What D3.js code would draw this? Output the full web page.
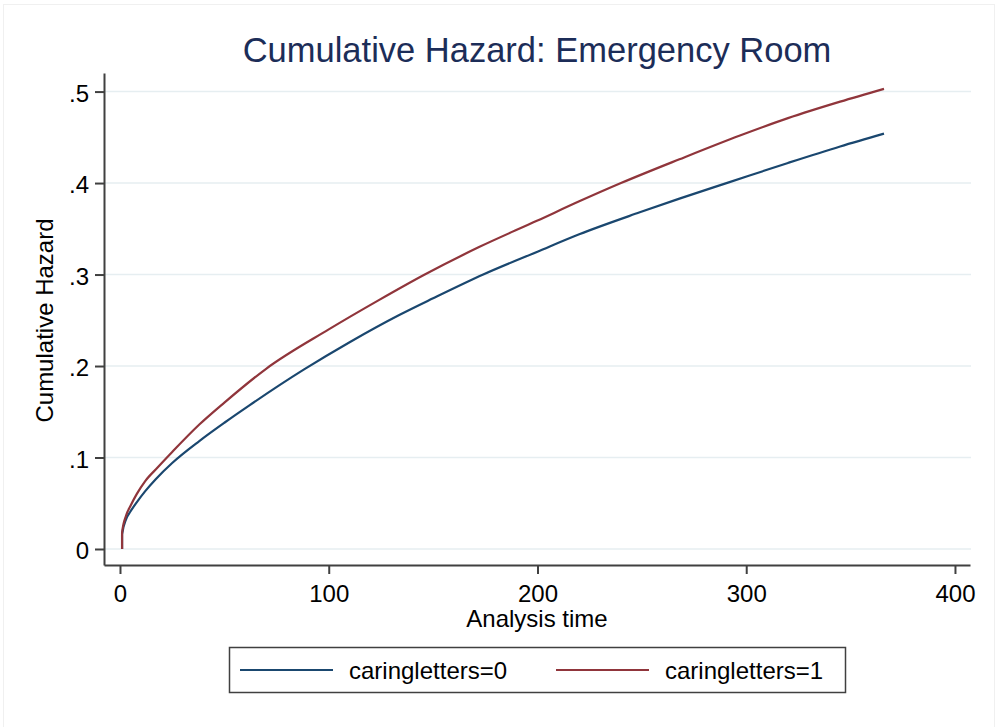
<!DOCTYPE html>
<html>
	<head>
		<meta charset="utf-8">
		<title>Cumulative Hazard</title>
		<style type="text/css">
			body {
			margin: 0;
			background: #ffffff;
			}
			
			text {
			font-family: "Liberation Sans", Arial, sans-serif;
			fill: #000000;
			}
			
			.title {
			font-size: 34.5px;
			fill: #1c2d58;
			}
			
			.axis text {
			font-size: 24px;
			}
			
			.axis path, .axis line {
			stroke: #404040;
			stroke-width: 2;
			}
			
			.grid line {
			stroke: #e6eef1;
			stroke-width: 1.5;
			}
			
			.hazard {
			fill: none;
			stroke-width: 2.2;
			stroke-linejoin: round;
			}
		</style>
		<script src="https://d3js.org/d3.v7.min.js"></script>
	</head>
	<body>
		<div id="chart"></div>
		
		<script>
			
			//data
			var groups = ["caringletters=0", "caringletters=1"];
			var colors = ["#1a476f", "#90353b"];
			
			var time0 = [1, 1, 3, 5, 8, 12, 17, 25, 38, 50, 62, 88, 110, 134, 150, 174, 200, 220, 249, 268, 292, 320, 345, 366];
			var hazard0 = [0, 0.016, 0.033, 0.041, 0.051, 0.063, 0.076, 0.094, 0.118, 0.138, 0.157, 0.196, 0.226, 0.256, 0.274, 0.300, 0.325, 0.344, 0.368, 0.383, 0.401, 0.422, 0.440, 0.454];
			
			var time1 = [1, 1, 3, 5, 8, 12, 18, 25, 38, 50, 70, 100, 124, 146, 172, 200, 220, 240, 268, 297, 320, 345, 366];
			var hazard1 = [0, 0.018, 0.037, 0.047, 0.060, 0.074, 0.089, 0.106, 0.136, 0.160, 0.197, 0.240, 0.272, 0.300, 0.330, 0.359, 0.380, 0.400, 0.426, 0.452, 0.471, 0.489, 0.503];
			
			var xTicks = [0, 100, 200, 300, 400];
			var yTicks = [0, 0.1, 0.2, 0.3, 0.4, 0.5];
			var yTickLabels = ["0", ".1", ".2", ".3", ".4", ".5"];
			
			// set the dimensions
			var fullWidth = 996, fullHeight = 727;
			var margin = {top: 73, left: 104},
			width = 866,
			height = 492;
			
			// set the ranges (axes run a little past the data range, like Stata)
			var x = d3.scaleLinear()
			.domain([-7.66, 407.2])
			.range([0, width]);
			
			var y = d3.scaleLinear()
			.domain([-0.0175, 0.5203])
			.range([height, 0]);
			
			var line = d3.line()
			.x(function(d) { return x(d.t); })
			.y(function(d) { return y(d.h); })
			.curve(d3.curveMonotoneX);
			
			var series = [
			time0.map(function(t, i) { return {t: t, h: hazard0[i]}; }),
			time1.map(function(t, i) { return {t: t, h: hazard1[i]}; })
			];
			
			var svg = d3.select("#chart").append("svg")
			.attr("width", fullWidth)
			.attr("height", fullHeight);
			
			// faint outer frame
			svg.append("rect")
			.attr("x", 3.5)
			.attr("y", 4.5)
			.attr("width", fullWidth - 5)
			.attr("height", fullHeight - 4)
			.attr("fill", "none")
			.attr("stroke", "#f0f0f0");
			
			svg.append("text")
			.attr("class", "title")
			.attr("x", margin.left + width / 2)
			.attr("y", 62)
			.attr("text-anchor", "middle")
			.text("Cumulative Hazard: Emergency Room");
			
			var g = svg.append("g")
			.attr("transform", "translate(" + margin.left + "," + margin.top + ")");
			
			// gridlines
			g.append("g")
			.attr("class", "grid")
			.selectAll("line")
			.data(yTicks)
			.enter().append("line")
			.attr("x1", 1)
			.attr("x2", width + 1)
			.attr("y1", function(d) { return y(d); })
			.attr("y2", function(d) { return y(d); });
			
			// add axis
			g.append("g")
			.attr("class", "x axis")
			.attr("transform", "translate(0," + height + ")")
			.call(d3.axisBottom(x).tickValues(xTicks).tickSize(9).tickSizeOuter(0).tickPadding(11));
			
			g.append("g")
			.attr("class", "y axis")
			.call(d3.axisLeft(y).tickValues(yTicks).tickSize(9).tickSizeOuter(0).tickPadding(6)
			.tickFormat(function(d, i) { return yTickLabels[i]; }))
			.selectAll("text")
			.attr("dy", "0.4em");
			
			// axis titles
			svg.append("text")
			.attr("x", margin.left + width / 2)
			.attr("y", 627)
			.attr("text-anchor", "middle")
			.style("font-size", "24px")
			.text("Analysis time");
			
			svg.append("text")
			.attr("transform", "translate(53," + 320.5 + ") rotate(-90)")
			.attr("text-anchor", "middle")
			.style("font-size", "24px")
			.text("Cumulative Hazard");
			
			// curves
			g.selectAll(".hazard")
			.data(series)
			.enter().append("path")
			.attr("class", "hazard")
			.attr("stroke", function(d, i) { return colors[i]; })
			.attr("d", line);
			
			// legend
			var legend = svg.append("g");
			
			legend.append("rect")
			.attr("x", 229.5)
			.attr("y", 647.5)
			.attr("width", 616)
			.attr("height", 45)
			.attr("fill", "#ffffff")
			.attr("stroke", "#404040")
			.attr("stroke-width", 1.5);
			
			var items = legend.selectAll(".item")
			.data(groups)
			.enter().append("g")
			.attr("class", "item")
			.attr("transform", function(d, i) { return "translate(" + (240 + i * 316) + ",670)"; });
			
			items.append("line")
			.attr("x1", 0)
			.attr("x2", 93)
			.attr("stroke", function(d, i) { return colors[i]; })
			.attr("stroke-width", 2.2);
			
			items.append("text")
			.attr("x", 109)
			.attr("y", 8.5)
			.style("font-size", "24px")
			.text(function(d) { return d; });
			
		</script>
	</body>
</html>
